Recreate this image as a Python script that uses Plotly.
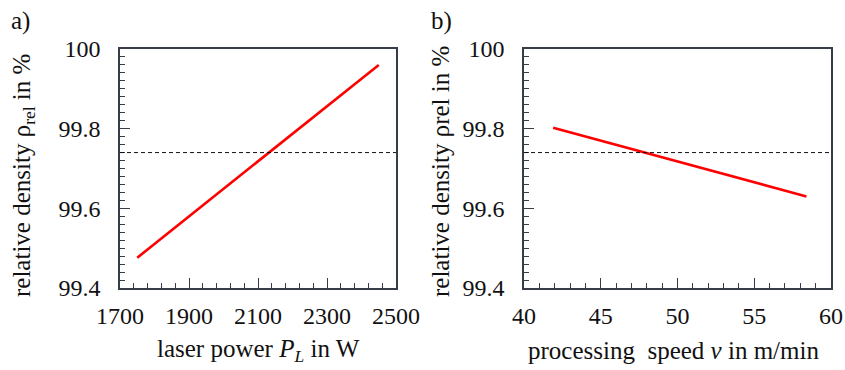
import plotly.graph_objects as go

# ---- data ----
power_W = [1750, 2450]
density_power = [99.476, 99.960]
speed_mmin = [41.9, 58.4]
density_speed = [99.802, 99.630]
threshold = 99.74

y_label_vals = [99.4, 99.6, 99.8, 100.0]
y_label_text = ["99.4", "99.6", "99.8", "100"]
y_long_vals = [99.5, 99.7, 99.9]
x1_tickvals = [1700, 1900, 2100, 2300, 2500]
x1_ticktext = ["1700", "1900", "2100", "2300", "2500"]
x2_tickvals = [40, 45, 50, 55, 60]
x2_ticktext = ["40", "45", "50", "55", "60"]

FONT = "Liberation Serif, Times New Roman, serif"
AX = "#363c48"
W, H = 845, 370

fig = go.Figure()
fig.add_trace(go.Scatter(x=power_W, y=density_power, mode="lines",
                         line=dict(color="#ff0000", width=2.6),
                         xaxis="x", yaxis="y", showlegend=False))
fig.add_trace(go.Scatter(x=speed_mmin, y=density_speed, mode="lines",
                         line=dict(color="#ff0000", width=2.6),
                         xaxis="x2", yaxis="y2", showlegend=False))

ydom = [1 - 288 / H, 1 - 49 / H]
tickfont = dict(family=FONT, size=24, color="#111")


def axis(minor_dtick, tick0, **kw):
    d = dict(showline=True, linecolor=AX, linewidth=1.6, mirror=True,
             ticks="inside", ticklen=10, tickwidth=1.3, tickcolor=AX,
             showgrid=False, zeroline=False, tickfont=tickfont,
             tickmode="array",
             minor=dict(ticks="inside", ticklen=5, tickwidth=1.3, tickcolor=AX,
                        dtick=minor_dtick, tick0=tick0, showgrid=False))
    d.update(kw)
    return d


def overlay_axis(over, anchor, dom):
    return dict(overlaying=over, anchor=anchor, domain=dom, range=[99.4, 100.0],
                tickmode="array", tickvals=y_long_vals, ticks="inside",
                ticklen=10, tickwidth=1.3, tickcolor=AX, showticklabels=False,
                showgrid=False, zeroline=False, showline=False)


fig.update_layout(
    width=W, height=H,
    margin=dict(l=0, r=0, t=0, b=0, autoexpand=False),
    paper_bgcolor="white", plot_bgcolor="white",
    font=dict(family=FONT, size=24, color="#111"),
    xaxis=axis(40, 1700, domain=[120 / W, 396 / W], range=[1700, 2500],
               tickvals=x1_tickvals, ticktext=x1_ticktext,
               ticklabelstandoff=5, anchor="y"),
    yaxis=axis(0.02, 99.4, domain=ydom, range=[99.4, 100.0], anchor="x",
               tickvals=y_label_vals, ticktext=y_label_text,
               ticklabelstandoff=13),
    xaxis2=axis(1, 40, domain=[524 / W, 831 / W], range=[40, 60],
                tickvals=x2_tickvals, ticktext=x2_ticktext,
                ticklabelstandoff=5, anchor="y2"),
    yaxis2=axis(0.02, 99.4, domain=ydom, range=[99.4, 100.0], anchor="x2",
                tickvals=y_label_vals, ticktext=y_label_text,
                ticklabelstandoff=13),
    yaxis3=overlay_axis("y", "x", ydom),
    yaxis4=overlay_axis("y2", "x2", ydom),
)

for xr in ["x", "x2"]:
    fig.add_shape(type="line", xref=f"{xr} domain", yref=xr.replace("x", "y"),
                  x0=0, x1=1, y0=threshold, y1=threshold,
                  line=dict(color="#111", width=1, dash="4px,3px"))

tfont = dict(family=FONT, size=25, color="#111")
ann = [
    dict(x=9 / W, y=1 - 21 / H, text="a)", xanchor="left"),
    dict(x=429 / W, y=1 - 21 / H, text="b)", xanchor="left"),
    dict(x=258 / W, y=1 - 350 / H, text="laser power <i>P<sub>L</sub></i> in W"),
    dict(x=673 / W, y=1 - 350 / H, text="processing  speed <i>v</i> in m/min"),
    dict(x=23 / W, y=1 - 176 / H, text="relative density ρ<sub>rel</sub> in %", textangle=-90),
    dict(x=441 / W, y=1 - 171 / H, text="relative density ρrel in %", textangle=-90),
]
for a in ann:
    a.setdefault("xanchor", "center")
    fig.add_annotation(xref="paper", yref="paper", yanchor="middle",
                       showarrow=False, font=tfont, **a)

fig.write_html("out.html", post_script="document.body.style.margin='0';")
